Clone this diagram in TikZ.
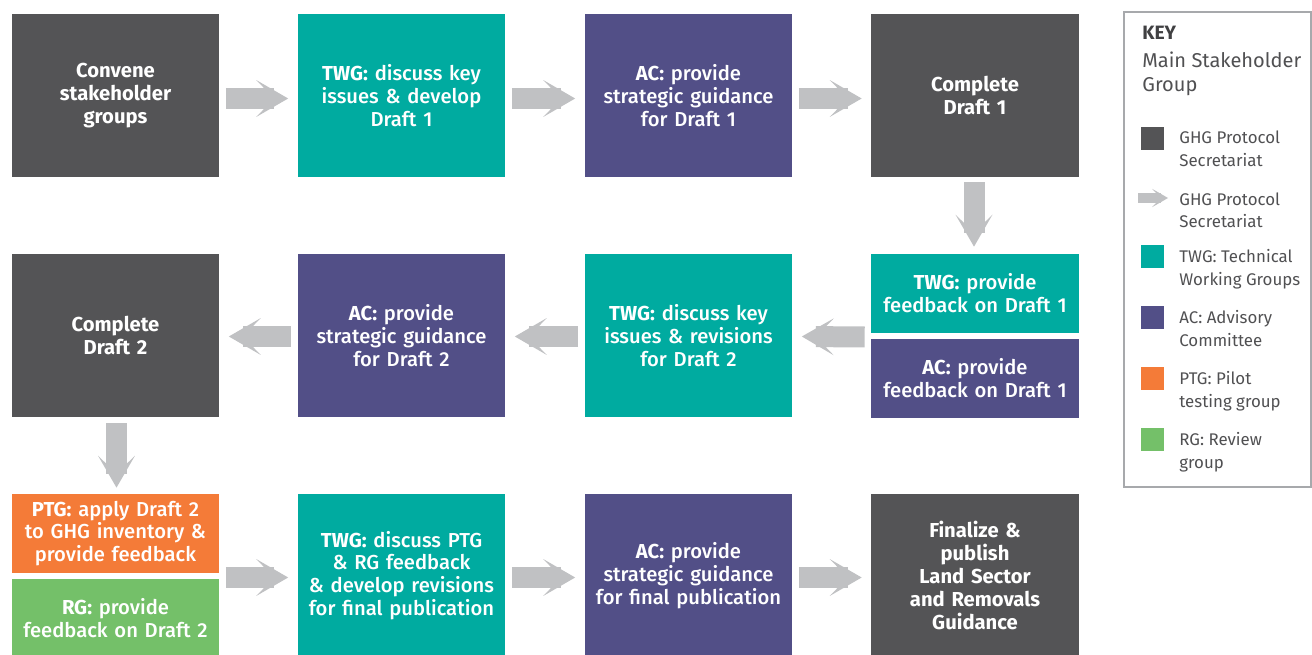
\documentclass[tikz,border=0pt]{standalone}
\usepackage{fontspec}
\setmainfont{Fira Sans}
\newfontfamily\medfont{Fira Sans Medium}[BoldFont={Fira Sans Bold}]
\usetikzlibrary{arrows.meta, calc}

\definecolor{ghggray}{RGB}{84,84,86}
\definecolor{twgteal}{RGB}{0,171,160}
\definecolor{acpurple}{RGB}{82,79,135}
\definecolor{ptgorange}{RGB}{244,123,56}
\definecolor{rggreen}{RGB}{116,192,105}
\definecolor{arrowgray}{RGB}{192,193,195}
\definecolor{keygray}{RGB}{167,169,172}
\definecolor{keytext}{RGB}{80,80,82}

\tikzset{
  box/.style={rectangle, minimum width=4.16cm, minimum height=3.26cm,
    text width=4.1cm, align=center, inner sep=0pt, text=white,
    font=\medfont\fontsize{11.5}{13}\selectfont},
  halfbox/.style={box, minimum height=1.58cm},
  flow/.style={draw=arrowgray, line width=0.42cm,
    -{Stealth[length=0.64cm, width=0.74cm, inset=0.36cm, line width=0pt]}},
  keyflow/.style={draw=arrowgray, line width=0.2cm,
    -{Stealth[length=0.32cm, width=0.37cm, inset=0.18cm, line width=0pt]}},
  keylabel/.style={anchor=north west, align=left, inner sep=0pt, text=keytext,
    font=\fontsize{9.6}{13}\selectfont},
}

\begin{document}
\begin{tikzpicture}[x=0.02cm, y=-0.02cm]
\useasboundingbox (0,0) rectangle (1312,655);

% top row
\node[box, fill=ghggray] (convene) at (115.5,95.5) {\textbf{Convene\\stakeholder\\groups}};
\node[box, fill=twgteal] (twgA) at (401.5,95.5) {\textbf{TWG:} discuss key\\issues \& develop\\Draft 1};
\node[box, fill=acpurple] (acA) at (688.5,95.5) {\textbf{AC:} provide\\strategic guidance\\for Draft 1};
\node[box, fill=ghggray] (draftA) at (975,95.5) {\textbf{Complete\\Draft 1}};

% middle row
\node[halfbox, fill=twgteal] (twgfbA) at (975,293.5) {\textbf{TWG:} provide\\feedback on Draft 1};
\node[halfbox, fill=acpurple] (acfbA) at (975,378.5) {\textbf{AC:} provide\\feedback on Draft 1};
\node[box, fill=twgteal] (twgB) at (688.5,335.5) {\textbf{TWG:} discuss key\\issues \& revisions\\for Draft 2};
\node[box, fill=acpurple] (acB) at (401.5,335.5) {\textbf{AC:} provide\\strategic guidance\\for Draft 2};
\node[box, fill=ghggray] (draftB) at (115.5,335.5) {\textbf{Complete\\Draft 2}};

% bottom row
\node[halfbox, fill=ptgorange] (ptg) at (115.5,533.5) {\textbf{PTG:} apply Draft 2\\to GHG inventory \&\\provide feedback};
\node[halfbox, fill=rggreen] (rg) at (115.5,618.5) {\textbf{RG:} provide\\feedback on Draft 2};
\node[box, fill=twgteal] (twgC) at (401.5,575.5) {\textbf{TWG:} discuss PTG\\\& RG feedback\\\& develop revisions\\for final publication};
\node[box, fill=acpurple] (acC) at (688.5,575.5) {\textbf{AC:} provide\\strategic guidance\\for final publication};
\node[box, fill=ghggray] (final) at (975,575.5) {\textbf{Finalize \&\\publish\\Land Sector\\and Removals\\Guidance}};

% arrows
\draw[flow] ([shift={(6,3)}]convene.east) -- ([shift={(-9,3)}]twgA.west);
\draw[flow] ([shift={(6,3)}]twgA.east) -- ([shift={(-9,3)}]acA.west);
\draw[flow] ([shift={(6,3)}]acA.east) -- ([shift={(-9,3)}]draftA.west);
\draw[flow] ([shift={(-1,5)}]draftA.south) -- ([shift={(-1,-7)}]twgfbA.north);
\coordinate (fbjoin) at ($(twgfbA.south west)!0.5!(acfbA.north west)$);
\draw[flow] ([shift={(-6,1)}]fbjoin) -- ([shift={(9,1)}]twgB.east);
\draw[flow] ([shift={(-6,1)}]twgB.west) -- ([shift={(9,1)}]acB.east);
\draw[flow] ([shift={(-6,1)}]acB.west) -- ([shift={(9,1)}]draftB.east);
\draw[flow] ([shift={(1,6)}]draftB.south) -- ([shift={(1,-6)}]ptg.north);
\draw[flow] ([shift={(6,2)}]twgC.west -| ptg.east) -- ([shift={(-9,2)}]twgC.west);
\draw[flow] ([shift={(6,2)}]twgC.east) -- ([shift={(-9,2)}]acC.west);
\draw[flow] ([shift={(6,2)}]acC.east) -- ([shift={(-9,2)}]final.west);

% key
\draw[keygray, line width=0.03cm] (1124,12) rectangle (1311,487);
\node[anchor=base west, inner sep=0pt, text=keytext!80!black, font=\fontsize{11}{13}\selectfont\bfseries] (keytitle) at (1142,40) {KEY};
\node[anchor=north west, align=left, inner sep=0pt, text=keytext, font=\fontsize{11.4}{13.6}\selectfont] (keysub) at (1142,52) {Main Stakeholder\\Group};
\foreach \y/\c/\t in {127/ghggray/{GHG Protocol\\Secretariat},
                      245/twgteal/{TWG: Technical\\Working Groups},
                      306/acpurple/{AC: Advisory\\Committee},
                      367/ptgorange/{PTG: Pilot\\testing group},
                      428/rggreen/{RG: Review\\group}}
{
  \fill[\c] (1141,\y) rectangle ++(23,23);
  \node[keylabel] (key-\c) at (1179,\y+4) {\t};
}
\coordinate (keyA) at (1138,198);
\coordinate (keyB) at (1168,198);
\draw[keyflow] (keyA) -- (keyB);
\node[keylabel] (key-arrow) at (1179,192) {GHG Protocol\\Secretariat};
\end{tikzpicture}
\end{document}
